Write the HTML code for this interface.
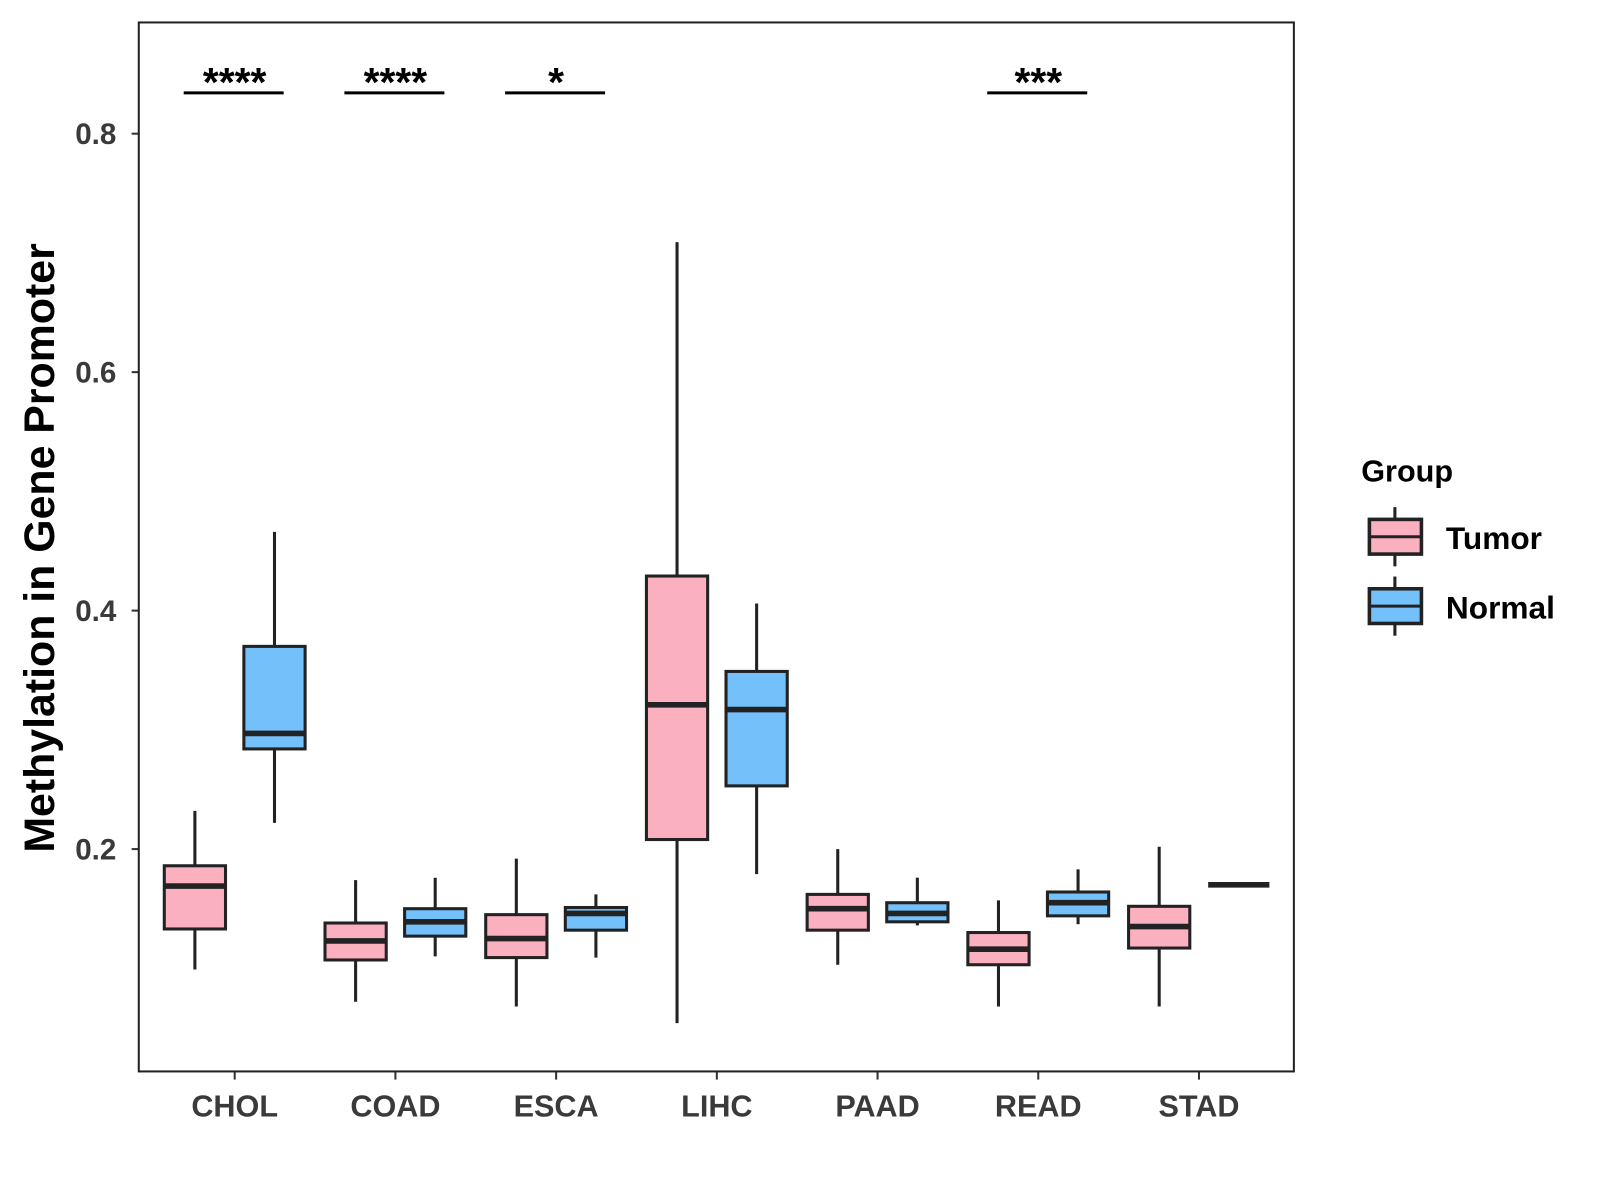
<!DOCTYPE html>
<html><head><meta charset="utf-8"><style>
html,body{margin:0;padding:0;background:#fff;}
svg{display:block;font-family:"Liberation Sans",Arial,sans-serif;}
</style></head><body>
<svg id="chart" width="1600" height="1200" viewBox="0 0 1568 1176" xmlns="http://www.w3.org/2000/svg">
<rect width="1568" height="1176" fill="#fff"/>
<g id="plot"></g>
<rect x="136" y="22" width="1132" height="1028" fill="none" stroke="#222" stroke-width="2"/>
<text transform="translate(53,537) rotate(-90)" text-anchor="middle" font-size="42" font-weight="bold" fill="#000">Methylation in Gene Promoter</text>
<g>
<text x="1334" y="472" font-size="30" font-weight="bold" fill="#000">Group</text>
<g>
<line x1="1367" y1="497" x2="1367" y2="555" stroke="#222" stroke-width="3"/>
<rect x="1342" y="509" width="51" height="34" fill="#FBB0C0" stroke="#222" stroke-width="3.5"/>
<line x1="1342" y1="526" x2="1393" y2="526" stroke="#222" stroke-width="3"/>
<text x="1417" y="538" font-size="31" font-weight="bold" fill="#000">Tumor</text>
</g>
<g>
<line x1="1367" y1="565" x2="1367" y2="623" stroke="#222" stroke-width="3"/>
<rect x="1342" y="577" width="51" height="34" fill="#74C0FA" stroke="#222" stroke-width="3.5"/>
<line x1="1342" y1="594" x2="1393" y2="594" stroke="#222" stroke-width="3"/>
<text x="1417" y="606" font-size="31" font-weight="bold" fill="#000">Normal</text>
</g>
</g>
</svg>
<script>
const categories = ["CHOL","COAD","ESCA","LIHC","PAAD","READ","STAD"];
const yTicks = [0.2,0.4,0.6,0.8];
const yTickLabels = ["0.2","0.4","0.6","0.8"];
// [low, q1, median, q3, high]
const tumorStats = [
  [0.099,0.133,0.169,0.186,0.232],
  [0.072,0.107,0.123,0.138,0.174],
  [0.068,0.109,0.125,0.145,0.192],
  [0.054,0.208,0.321,0.429,0.709],
  [0.103,0.132,0.150,0.162,0.200],
  [0.068,0.103,0.116,0.130,0.157],
  [0.068,0.117,0.135,0.152,0.202]
];
const normalStats = [
  [0.222,0.284,0.297,0.370,0.466],
  [0.110,0.127,0.139,0.150,0.176],
  [0.109,0.132,0.146,0.151,0.162],
  [0.179,0.253,0.317,0.349,0.406],
  [0.136,0.139,0.146,0.155,0.176],
  [0.137,0.144,0.155,0.164,0.183],
  [0.170,0.170,0.170,0.170,0.170]
];
const sigCategories = ["CHOL","COAD","ESCA","READ"];
const sigLabels = ["****","****","*","***"];

const NS="http://www.w3.org/2000/svg";
const g=document.getElementById('plot');
function y(v){return 131+(0.8-v)*1168.5;}
function x(i){return 230+i*157.5;}
function mk(tag,attrs,parent){const e=document.createElementNS(NS,tag);for(const k in attrs)e.setAttribute(k,attrs[k]);(parent||g).appendChild(e);return e;}

yTicks.forEach((t,i)=>{
  const tk=mk('line',{x1:129,x2:136,y1:y(t),y2:y(t),stroke:'#333','stroke-width':2});
  
  
  const lb=mk('text',{x:114,y:y(t)+10,'text-anchor':'end','font-size':29,'font-weight':'bold',fill:'#3a3a3a'});
  lb.textContent=yTickLabels[i];
  
  
});
categories.forEach((c,i)=>{
  const tk=mk('line',{x1:x(i),x2:x(i),y1:1050,y2:1058,stroke:'#333','stroke-width':2});
  
  
  const lb=mk('text',{x:x(i),y:1094,'text-anchor':'middle','font-size':30,'font-weight':'bold',fill:'#3a3a3a'});
  lb.textContent=c;
  
  
});
function box(cx,s,fill,name){
  const grp=mk('g',{});
  
  
  mk('line',{x1:cx,x2:cx,y1:y(s[0]),y2:y(s[4]),stroke:'#222','stroke-width':3},grp);
  const h=Math.max(y(s[1])-y(s[3]),0);
  if(h>0.5) mk('rect',{x:cx-30,y:y(s[3]),width:60,height:h,fill:fill,stroke:'#222','stroke-width':3},grp);
  mk('line',{x1:cx-30,x2:cx+30,y1:y(s[2]),y2:y(s[2]),stroke:'#222','stroke-width':5.5},grp);
}
categories.forEach((c,i)=>{
  box(x(i)-39,tumorStats[i],'#FBB0C0','box-tumor-'+c.toLowerCase());
  box(x(i)+39,normalStats[i],'#74C0FA','box-normal-'+c.toLowerCase());
});
sigCategories.forEach((c,j)=>{
  const i=categories.indexOf(c);
  const ln=mk('line',{x1:x(i)-50,x2:x(i)+48,y1:91,y2:91,stroke:'#000','stroke-width':3});
  
  
  const t=mk('text',{x:x(i),y:94,'text-anchor':'middle','font-size':40,'font-weight':'bold',fill:'#000'});
  t.textContent=sigLabels[j];
  
  
});
</script>
</body></html>
